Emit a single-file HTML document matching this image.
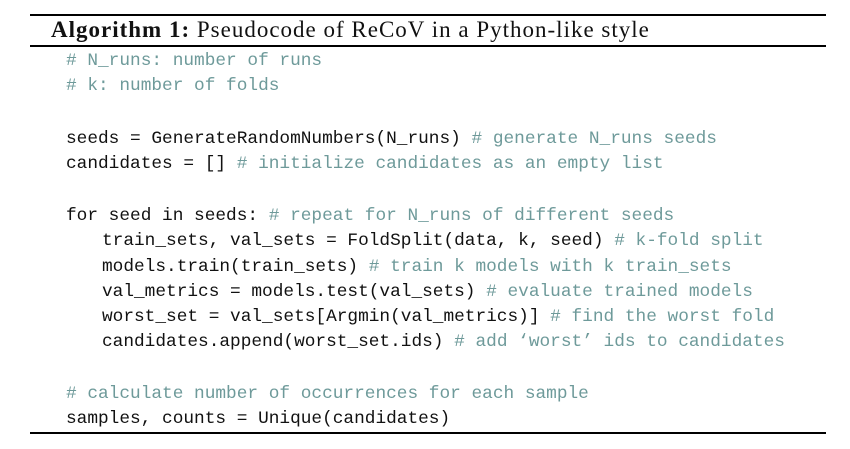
<!DOCTYPE html>
<html><head><meta charset="utf-8"><style>
body{margin:0;width:850px;height:449px;background:#fff;position:relative;overflow:hidden}
.rule{position:absolute;left:30px;width:796px;background:#000}
.t{position:absolute;left:51px;top:16px;font-family:"Liberation Serif",serif;font-size:23px;letter-spacing:1px;line-height:28px;color:#111;white-space:pre}
.l{position:absolute;font-family:"Liberation Mono",monospace;font-size:17.8px;line-height:20px;color:#111;white-space:pre;margin-top:2px}
.c{color:#6e9a9a}
</style></head><body>
<div class="rule" style="top:14px;height:2px"></div>
<div class="t"><b>Algorithm 1:</b> Pseudocode of ReCoV in a Python-like style</div>
<div class="rule" style="top:45px;height:2px"></div>
<div class="l" style="left:66px;top:49px"><span class="c"># N_runs: number of runs</span></div>
<div class="l" style="left:66px;top:74px"><span class="c"># k: number of folds</span></div>
<div class="l" style="left:66px;top:127px">seeds = GenerateRandomNumbers(N_runs) <span class="c"># generate N_runs seeds</span></div>
<div class="l" style="left:66px;top:152px">candidates = [] <span class="c"># initialize candidates as an empty list</span></div>
<div class="l" style="left:66px;top:204px">for seed in seeds: <span class="c"># repeat for N_runs of different seeds</span></div>
<div class="l" style="left:102px;top:229px">train_sets, val_sets = FoldSplit(data, k, seed) <span class="c"># k-fold split</span></div>
<div class="l" style="left:102px;top:255px">models.train(train_sets) <span class="c"># train k models with k train_sets</span></div>
<div class="l" style="left:102px;top:280px">val_metrics = models.test(val_sets) <span class="c"># evaluate trained models</span></div>
<div class="l" style="left:102px;top:305px">worst_set = val_sets[Argmin(val_metrics)] <span class="c"># find the worst fold</span></div>
<div class="l" style="left:102px;top:330px">candidates.append(worst_set.ids) <span class="c"># add ‘worst’ ids to candidates</span></div>
<div class="l" style="left:66px;top:382px"><span class="c"># calculate number of occurrences for each sample</span></div>
<div class="l" style="left:66px;top:407px">samples, counts = Unique(candidates)</div>
<div class="rule" style="top:432px;height:2px"></div>
</body></html>
